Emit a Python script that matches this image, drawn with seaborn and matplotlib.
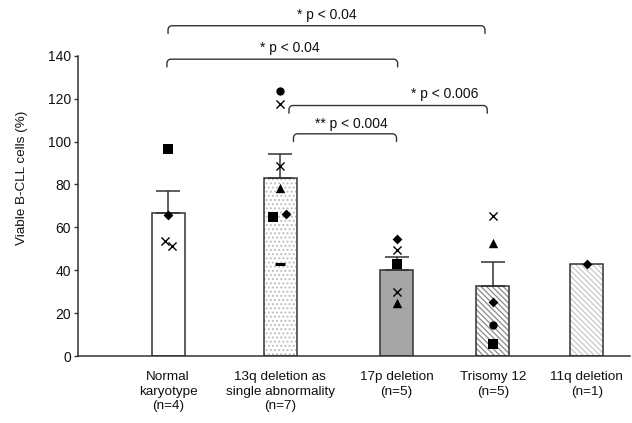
import numpy as np
import pandas as pd
import matplotlib
matplotlib.use("Agg")
import matplotlib.pyplot as plt
import seaborn as sns

# groups and individual patient values (viable B-CLL cells, %)
groups = ["Normal\nkaryotype\n(n=4)",
          "13q deletion as\nsingle abnormality\n(n=7)",
          "17p deletion\n(n=5)",
          "Trisomy 12\n(n=5)",
          "11q deletion\n(n=1)"]

normal_vals = [96.4, 65.6, 53.8, 51.5]
normal_marks = ["s", "D", "x", "x"]
del13q_vals = [123.7, 117.6, 88.8, 78.5, 65.0, 66.1, 42.9]
del13q_marks = ["o", "x", "x", "^", "s", "D", "_"]
del17p_vals = [54.7, 49.5, 42.8, 29.9, 24.6]
del17p_marks = ["D", "x", "s", "x", "^"]
tri12_vals = [65.2, 52.6, 25.2, 14.5, 5.6]
tri12_marks = ["x", "^", "D", "o", "s"]
del11q_vals = [42.9]
del11q_marks = ["D"]

p_labels = ["* p < 0.04", "* p < 0.04", "* p < 0.006", "** p < 0.004"]

# layout
group_x = [0, 1, 2.04, 2.9, 3.74]
point_dx = [[0, 0, -0.025, 0.035],
            [0, 0, 0, 0, -0.06, 0.05, 0],
            [0, 0, 0, 0, 0],
            [0, 0, 0, 0, 0],
            [0]]
bar_w = 0.295
# (x left, x right, y top, text x, text y)
brackets = [(0.0, 2.83, 154.0, 1.42, 158.9),
            (-0.01, 2.05, 138.4, 1.09, 143.6),
            (1.08, 2.85, 116.8, 2.47, 122.3),
            (1.12, 2.04, 103.6, 1.64, 108.3)]

fills = ["white", "white", "#a6a6a6", "white", "white"]
hatches = [None, "....", None, "\\\\\\\\\\\\", "\\\\\\\\\\\\"]
hatch_cols = ["white", "#bdbdbd", "#a6a6a6", "#8a8a8a", "#c8c8c8"]
edge = "#333333"

all_vals = [normal_vals, del13q_vals, del17p_vals, tri12_vals, del11q_vals]
all_marks = [normal_marks, del13q_marks, del17p_marks, tri12_marks, del11q_marks]
rows = []
for g, x, vals, marks, dxs in zip(groups, group_x, all_vals, all_marks, point_dx):
    for v, m, dx in zip(vals, marks, dxs):
        rows.append({"group": g, "pos": x, "value": v, "marker": m, "xj": x + dx})
df = pd.DataFrame(rows)

sns.set_style("ticks")
plt.rcParams["font.family"] = ["Liberation Sans", "DejaVu Sans"]
plt.rcParams["hatch.linewidth"] = 0.9

fig = plt.figure(figsize=(6.32, 4.23), dpi=100)
ax = fig.add_axes([78 / 632, 67 / 423, 552 / 632, 356 / 423])

w = bar_w / np.min(np.diff(group_x))
# filled / hatched layer
sns.barplot(data=df, x="pos", y="value", native_scale=True, errorbar=None,
            width=w, color="white", linewidth=0, ax=ax)
for p, fc, h, hc in zip(ax.patches, fills, hatches, hatch_cols):
    p.set_facecolor(fc)
    p.set_edgecolor(hc)
    p.set_linewidth(0)
    if h:
        p.set_hatch(h)
n_fill = len(ax.patches)
# outline layer
sns.barplot(data=df, x="pos", y="value", native_scale=True, errorbar=None,
            width=w, fill=False, color=edge, linewidth=1.1, ax=ax)
for p in ax.patches[n_fill:]:
    p.set_edgecolor(edge)
    p.set_facecolor("none")
    p.set_zorder(2)

# SEM, upward only
stats = df.groupby("pos")["value"].agg(["mean", "sem", "count"]).reset_index()
stats = stats[stats["count"] > 1]
ax.errorbar(stats["pos"], stats["mean"], yerr=[np.zeros(len(stats)), stats["sem"]],
            fmt="none", ecolor=edge, elinewidth=1.1, capsize=8.6, capthick=1.1, zorder=3)

# individual patients
sizes = {"s": 46, "D": 25, "^": 46, "o": 36, "x": 34, "_": 46}
for m, sub in df.groupby("marker"):
    if m in ("x", "_"):
        sns.scatterplot(data=sub, x="xj", y="value", marker=m, color="black",
                        s=sizes[m], linewidth=2.2 if m == "_" else 1.0, ax=ax, zorder=4)
    else:
        sns.scatterplot(data=sub, x="xj", y="value", marker=m, color="black",
                        edgecolor="black", s=sizes[m], linewidth=0, ax=ax, zorder=4)

# significance brackets
rx, ry, leg = 0.035, 1.9, 3.6
t = np.linspace(0, np.pi / 2, 12)
for (xl, xr, yt, tx, ty), lab in zip(brackets, p_labels):
    left_arc_x = xl + rx - rx * np.cos(t)
    left_arc_y = yt - ry + ry * np.sin(t)
    right_arc_x = xr - rx + rx * np.cos(t[::-1])
    right_arc_y = yt - ry + ry * np.sin(t[::-1])
    bx = np.concatenate([[xl], left_arc_x, right_arc_x, [xr]])
    by = np.concatenate([[yt - leg], left_arc_y, right_arc_y, [yt - leg]])
    ax.plot(bx, by, color=edge, lw=1.0, zorder=3)
    ax.text(tx, ty, lab, ha="center", va="center", fontsize=10, color="#111111")

ax.set_xlim(-0.804, 4.125)
ax.set_ylim(0, 166)
ax.set_yticks(range(0, 141, 20))
ax.set_xticks(group_x)
ax.set_xticklabels(groups, fontsize=9.7, linespacing=1.25, color="#111111")
ax.tick_params(axis="x", length=0, pad=11)
ax.tick_params(axis="y", length=3, width=1, color=edge, labelsize=10, labelcolor="#111111", pad=2)
ax.set_xlabel("")
ax.set_ylabel("Viable B-CLL cells (%)", fontsize=9.7, color="#111111", labelpad=14)
sns.despine(ax=ax)
ax.spines["left"].set_bounds(0, 140)
for s in ("left", "bottom"):
    ax.spines[s].set_color(edge)
    ax.spines[s].set_linewidth(1.1)

fig.savefig("out.png", dpi=100)
